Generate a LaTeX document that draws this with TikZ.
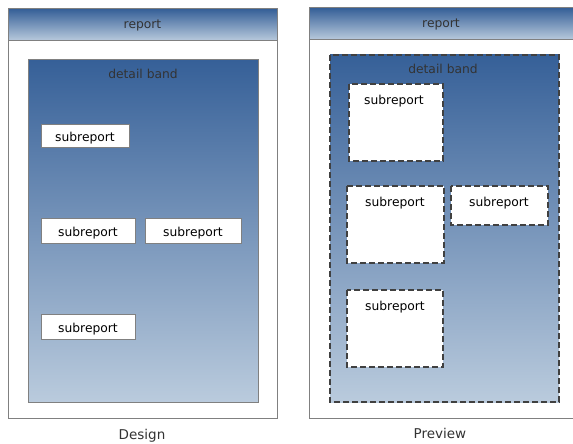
\documentclass[tikz,border=0pt]{standalone}
\usepackage{fontspec}
\setmainfont{DejaVu Sans}
\definecolor{bandtop}{RGB}{54,96,152}
\definecolor{bandbot}{RGB}{186,203,221}
\definecolor{frame}{RGB}{128,128,128}
\definecolor{ink}{RGB}{51,51,51}
\definecolor{dashink}{RGB}{64,64,64}
\tikzset{
  panel/.style={draw=frame, line width=1pt, fill=white},
  header/.style={draw=frame, line width=1pt, top color=bandtop, bottom color=bandbot},
  band/.style={draw=frame, line width=1pt, top color=bandtop, bottom color=bandbot},
  dashband/.style={draw=dashink, line width=1.6pt, dash pattern=on 6pt off 3pt, top color=bandtop, bottom color=bandbot},
  subbox/.style={draw=frame, line width=1pt, fill=white},
  dashbox/.style={draw=dashink, line width=1.6pt, dash pattern=on 6pt off 3pt, fill=white},
  lbl/.style={font=\fontsize{12.3}{14}\selectfont, text=ink},
  sublbl/.style={font=\fontsize{12.3}{14}\selectfont, text=black},
  caption/.style={font=\fontsize{13.5}{15}\selectfont, text=ink}
}
\begin{document}
\begin{tikzpicture}[x=1pt, y=-1pt]
\clip (0,0) rectangle (573,444);
\fill[white] (0,0) rectangle (573,444);

% design
\draw[panel] (8,9) rectangle (277,418);
\draw[header] (8,9) rectangle (277,41) node[pos=.5, lbl] (dhead) {report};
\draw[band] (28,60) rectangle (258,402);
\node[lbl, anchor=north] (dband) at (143,66) {detail band};
\draw[subbox] (41,124) rectangle (129,147) node[pos=.5, sublbl, yshift=-3pt] (ds1) {subreport};
\draw[subbox] (41,218) rectangle (135,243) node[pos=.5, sublbl, yshift=-3pt] (ds2) {subreport};
\draw[subbox] (145,218) rectangle (241,243) node[pos=.5, sublbl, yshift=-3pt] (ds3) {subreport};
\draw[subbox] (41,314) rectangle (135,339) node[pos=.5, sublbl, yshift=-3pt] (ds4) {subreport};
\node[caption] (design) at (142,436) {Design};

% preview
\draw[panel] (309,8) rectangle (580,418);
\draw[header] (309,8) rectangle (580,40) node[pos=.5, lbl, xshift=-3.5pt] (phead) {report};
\draw[dashband] (330,55) rectangle (559,402);
\node[lbl, anchor=north] (pband) at (443,61) {detail band};
\draw[dashbox] (349,84) rectangle (443,161);
\node[sublbl, anchor=north] (ps1) at (394,92) {subreport};
\draw[dashbox] (347,186) rectangle (444,263);
\node[sublbl, anchor=north] (ps2) at (395,194) {subreport};
\draw[dashbox] (451,186) rectangle (548,225);
\node[sublbl, anchor=north] (ps3) at (499,194) {subreport};
\draw[dashbox] (347,290) rectangle (443,367);
\node[sublbl, anchor=north] (ps4) at (395,298) {subreport};
\node[caption] (preview) at (440,433) {Preview};
\end{tikzpicture}
\end{document}
